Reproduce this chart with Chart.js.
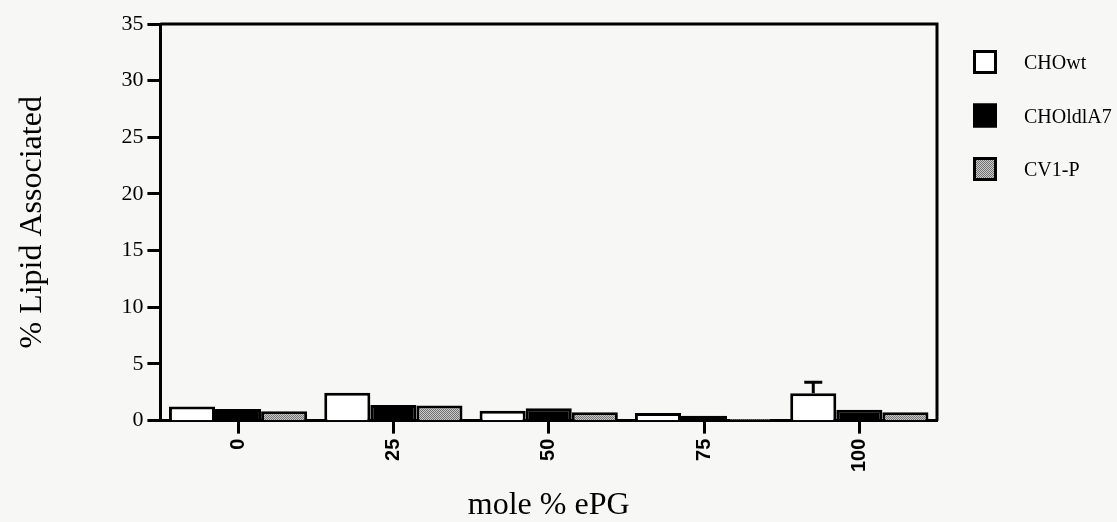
<!DOCTYPE html>
<html>
<head>
<meta charset="utf-8">
<title>% Lipid Associated vs mole % ePG</title>
<script src="https://cdn.jsdelivr.net/npm/chart.js@4"></script>
<style>
    html, body { margin: 0; padding: 0; background: #f7f7f5; }
    #chart { display: block; }
</style>
</head>
<body>
<canvas id="chart" width="1117" height="522"></canvas>
<script>
// Data
const categories = ['0', '25', '50', '75', '100'];
const choWt = [1.25, 2.45, 0.88, 0.68, 2.41];
const choLdlA7 = [1.03, 1.39, 1.09, 0.44, 0.95];
const cv1P = [0.82, 1.33, 0.73, 0.15, 0.73];
const choWtErr = [0, 0, 0, 0, 0.98];
const yMin = 0;
const yMax = 35;
const yStep = 5;

// Stippled grey fill for CV1-P
function stipple() {
    const c = document.createElement('canvas');
    c.width = 2;
    c.height = 2;
    const g = c.getContext('2d');
    g.fillStyle = '#c9c9c9';
    g.fillRect(0, 0, 2, 2);
    g.fillStyle = '#737373';
    g.fillRect(0, 0, 1, 1);
    g.fillRect(1, 1, 1, 1);
    return g.createPattern(c, 'repeat');
}

// Top and right sides of the frame
const frame = {
    id: 'frame',
    afterDraw(chart) {
        const a = chart.chartArea;
        const ctx = chart.ctx;
        ctx.save();
        ctx.strokeStyle = '#000';
        ctx.lineWidth = 3;
        ctx.beginPath();
        ctx.moveTo(a.left, a.top);
        ctx.lineTo(a.right, a.top);
        ctx.lineTo(a.right, a.bottom);
        ctx.stroke();
        ctx.restore();
    }
};

// Upper error bars on CHOwt
const errorBars = {
    id: 'errorBars',
    afterDatasetsDraw(chart) {
        const ctx = chart.ctx;
        const y = chart.scales.y;
        const meta = chart.getDatasetMeta(0);
        ctx.save();
        ctx.strokeStyle = '#000';
        ctx.lineWidth = 3;
        choWtErr.forEach((err, i) => {
            if (!err) return;
            const bar = meta.data[i];
            const top = y.getPixelForValue(choWt[i] + err);
            ctx.beginPath();
            ctx.moveTo(bar.x, bar.y);
            ctx.lineTo(bar.x, top);
            ctx.moveTo(bar.x - 9, top);
            ctx.lineTo(bar.x + 9, top);
            ctx.stroke();
        });
        ctx.restore();
    }
};

// Legend to the right of the plot
const sideLegend = {
    id: 'sideLegend',
    afterDraw(chart) {
        const ctx = chart.ctx;
        const a = chart.chartArea;
        const x = a.right + 36;
        ctx.save();
        ctx.font = '20px "Liberation Serif", serif';
        ctx.textBaseline = 'middle';
        ctx.textAlign = 'left';
        chart.data.datasets.forEach((ds, i) => {
            const cy = a.top + 38 + i * 53.5;
            ctx.fillStyle = ds.backgroundColor;
            ctx.fillRect(x, cy - 12, 24, 24);
            ctx.strokeStyle = '#000';
            ctx.lineWidth = 3;
            ctx.strokeRect(x + 1.5, cy - 10.5, 21, 21);
            ctx.fillStyle = '#000';
            ctx.fillText(ds.label, x + 51, cy + 2);
        });
        ctx.restore();
    }
};

const ctx = document.getElementById('chart').getContext('2d');
const lipidChart = new Chart(ctx, {
    type: 'bar',
    data: {
        labels: categories,
        datasets: [
            {
                label: 'CHOwt',
                data: choWt,
                backgroundColor: '#ffffff',
                borderColor: '#000',
                borderWidth: 3
            },
            {
                label: 'CHOldlA7',
                data: choLdlA7,
                backgroundColor: '#000000',
                borderColor: '#000',
                borderWidth: 3
            },
            {
                label: 'CV1-P',
                data: cv1P,
                backgroundColor: stipple(),
                borderColor: '#000',
                borderWidth: 3
            }
        ]
    },
    options: {
        responsive: false,
        animation: false,
        categoryPercentage: 0.89,
        barPercentage: 1.0,
        layout: {
            padding: { top: 24, right: 180, bottom: 0, left: 0 }
        },
        plugins: {
            legend: { display: false },
            tooltip: { enabled: false }
        },
        scales: {
            x: {
                grid: {
                    offset: false,
                    drawOnChartArea: false,
                    drawTicks: true,
                    tickLength: 13,
                    tickWidth: 3,
                    tickColor: '#000'
                },
                border: { color: '#000', width: 3 },
                ticks: {
                    color: '#000',
                    minRotation: 90,
                    maxRotation: 90,
                    padding: 5,
                    font: { family: '"Liberation Sans", sans-serif', size: 20, weight: 'bold' }
                },
                title: {
                    display: true,
                    text: 'mole % ePG',
                    color: '#000',
                    padding: { top: 13, bottom: 0 },
                    font: { family: '"Liberation Serif", serif', size: 32, lineHeight: 1 }
                }
            },
            y: {
                min: yMin,
                max: yMax,
                grid: {
                    drawOnChartArea: false,
                    drawTicks: true,
                    tickLength: 13,
                    tickWidth: 3,
                    tickColor: '#000'
                },
                border: { color: '#000', width: 3 },
                ticks: {
                    stepSize: yStep,
                    color: '#000',
                    padding: 4,
                    font: { family: '"Liberation Serif", serif', size: 22 }
                },
                title: {
                    display: true,
                    text: '% Lipid Associated',
                    color: '#000',
                    padding: { top: 13, bottom: 66 },
                    font: { family: '"Liberation Serif", serif', size: 32, lineHeight: 1.2 }
                }
            }
        }
    },
    plugins: [frame, errorBars, sideLegend]
});
</script>
</body>
</html>
